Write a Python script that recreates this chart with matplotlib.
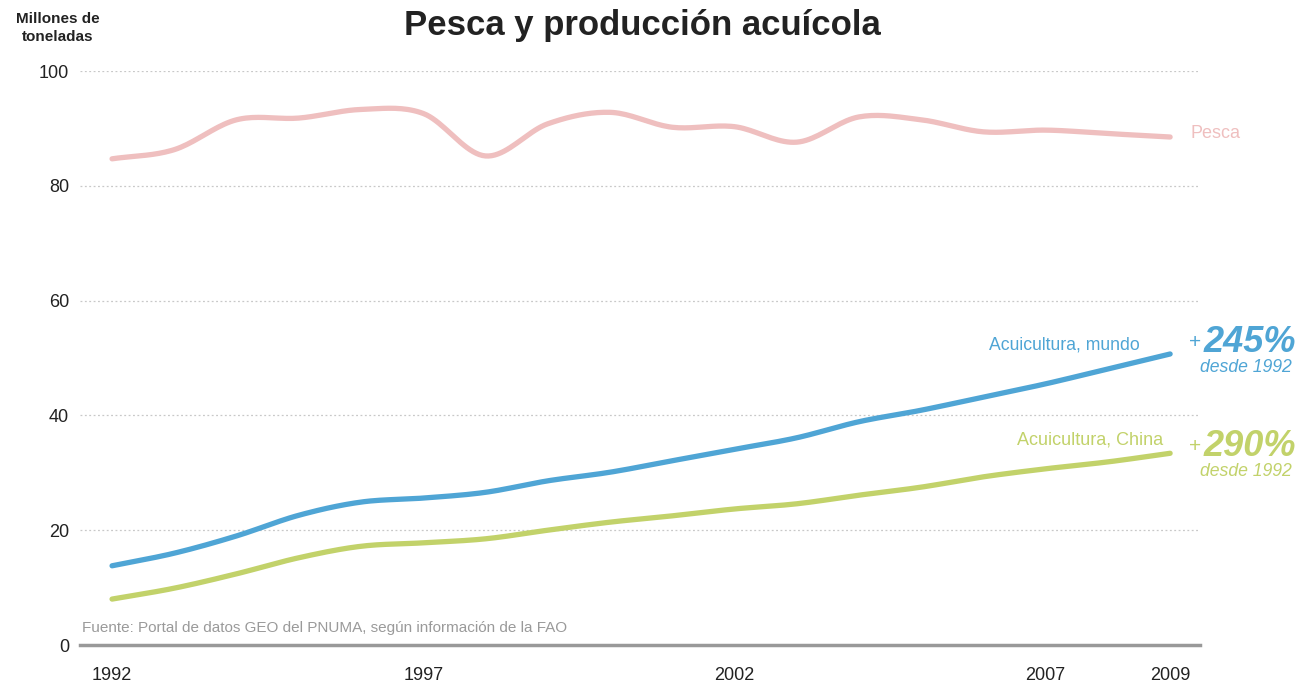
import numpy as np
import matplotlib
matplotlib.use("Agg")
import matplotlib.pyplot as plt

plt.rcParams['font.family'] = ['Liberation Sans', 'DejaVu Sans']

years = list(range(1992, 2010))
pesca = [84.7, 86.3, 91.5, 91.8, 93.3, 92.6, 85.2, 90.8, 92.8, 90.2, 90.3, 87.6,
         92.0, 91.5, 89.4, 89.7, 89.1, 88.5]
acui_mundo = [13.8, 16.0, 19.0, 22.6, 24.9, 25.6, 26.6, 28.6, 30.1, 32.1, 34.1, 36.1,
              38.9, 40.9, 43.2, 45.5, 48.1, 50.7]
acui_china = [8.0, 9.9, 12.4, 15.2, 17.2, 17.8, 18.5, 20.0, 21.4, 22.5, 23.7, 24.6,
              26.1, 27.5, 29.3, 30.7, 31.9, 33.4]
xtick_years = [1992, 1997, 2002, 2007, 2009]
yticks = [0, 20, 40, 60, 80, 100]

c_pesca = '#efbfbf'
c_blue = '#4fa5d5'
c_green = '#c2d26a'


def smooth(x, y, n=20):
    x = np.asarray(x, float)
    y = np.asarray(y, float)
    m = np.zeros_like(y)
    m[1:-1] = (y[2:] - y[:-2]) / (x[2:] - x[:-2])
    m[0] = (y[1] - y[0]) / (x[1] - x[0])
    m[-1] = (y[-1] - y[-2]) / (x[-1] - x[-2])
    xs, ys = [], []
    for i in range(len(x) - 1):
        h = x[i + 1] - x[i]
        t = np.linspace(0, 1, n, endpoint=False)
        h00 = 2 * t**3 - 3 * t**2 + 1
        h10 = t**3 - 2 * t**2 + t
        h01 = -2 * t**3 + 3 * t**2
        h11 = t**3 - t**2
        xs.append(x[i] + t * h)
        ys.append(h00 * y[i] + h10 * h * m[i] + h01 * y[i + 1] + h11 * h * m[i + 1])
    xs.append([x[-1]])
    ys.append([y[-1]])
    return np.concatenate(xs), np.concatenate(ys)


fig = plt.figure(figsize=(13.04, 6.83), dpi=100)
ax = fig.add_axes([80 / 1304, 38 / 683, 1120 / 1304, (645 - 71) / 683])
ax.set_xlim(1991.485, 2009.48)
ax.set_ylim(0, 100)

for v in yticks[1:]:
    ax.axhline(v, color='#c8c8c8', lw=0.9, ls=(0, (1.5, 2)), zorder=1)

for s, c in [(pesca, c_pesca), (acui_mundo, c_blue), (acui_china, c_green)]:
    xs, ys = smooth(years, s)
    ax.plot(xs, ys, color=c, lw=3.8, solid_capstyle='round', zorder=3, clip_on=False)

for sp in ['top', 'right', 'left']:
    ax.spines[sp].set_visible(False)
ax.spines['bottom'].set_color('#999999')
ax.spines['bottom'].set_linewidth(2.5)
ax.set_yticks(yticks)
ax.set_yticklabels([str(v) for v in yticks], fontsize=13, color='#222222')
ax.set_xticks(xtick_years)
ax.set_xticklabels([str(v) for v in xtick_years], fontsize=13, color='#222222')
ax.tick_params(axis='both', length=0)
ax.tick_params(axis='y', pad=8)
ax.tick_params(axis='x', pad=16)

fig.text(642 / 1304, 1 - 25 / 683, 'Pesca y producción acuícola', ha='center', va='center',
         fontsize=25, fontweight='bold', color='#222222')
fig.text(58 / 1304, 1 - 28 / 683, 'Millones de\ntoneladas', ha='center', va='center',
         fontsize=11, fontweight='bold', color='#222222', linespacing=1.3)

fig.text(82 / 1304, 1 - 628 / 683, 'Fuente: Portal de datos GEO del PNUMA, según información de la FAO',
         ha='left', va='center', fontsize=11, color='#9a9a9a')

fig.text(1190 / 1304, 1 - 133 / 683, 'Pesca', ha='left', va='center', fontsize=13, color=c_pesca)
fig.text(1140 / 1304, 1 - 345 / 683, 'Acuicultura, mundo', ha='right', va='center', fontsize=12.7, color=c_blue)
fig.text(1163 / 1304, 1 - 440 / 683, 'Acuicultura, China', ha='right', va='center', fontsize=13, color=c_green)

for yc, txt, col in [(342, '245%', c_blue), (446, '290%', c_green)]:
    fig.text(1296 / 1304, 1 - yc / 683, txt, ha='right', va='center', fontsize=26,
             fontweight='bold', fontstyle='italic', color=col)
    fig.text(1195 / 1304, 1 - (yc + 1) / 683, '+', ha='center', va='center', fontsize=15, color=col)
    fig.text(1292 / 1304, 1 - (yc + 26) / 683, 'desde 1992', ha='right', va='center', fontsize=12.7,
             fontstyle='italic', color=col)

fig.savefig('out.png', dpi=100, facecolor='white')
